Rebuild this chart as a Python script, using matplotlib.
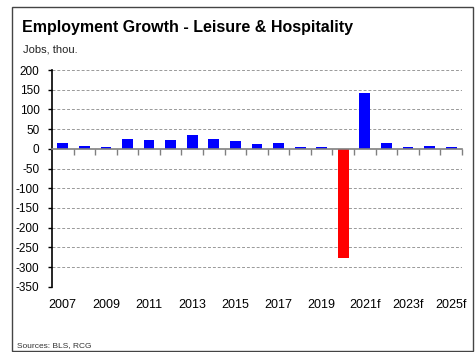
import matplotlib
matplotlib.use("Agg")
import matplotlib.pyplot as plt
import numpy as np
from matplotlib.patches import Rectangle
from matplotlib.ticker import FixedLocator

years = ['2007', '2008', '2009', '2010', '2011', '2012', '2013', '2014', '2015', '2016',
         '2017', '2018', '2019', '2020', '2021f', '2022f', '2023f', '2024f', '2025f']
growth = [15, 8, 5, 26, 22, 22, 35, 24, 19, 11, 15, 4, 4, -276, 141, 15, 5, 8, 5]
y_ticks = [200, 150, 100, 50, 0, -50, -100, -150, -200, -250, -300, -350]

plt.rcParams['font.family'] = ['Liberation Sans Narrow', 'Liberation Sans', 'DejaVu Sans']

fig = plt.figure(figsize=(4.76, 3.52), dpi=100)
ax = fig.add_axes([0.1092, 0.1855, 0.8613, 0.6156])

x = np.arange(len(years))
colors = ['#FF0000' if v < 0 else '#0000FF' for v in growth]
ax.bar(x, growth, width=0.5, color=colors, zorder=3)

ax.set_xlim(-0.5, len(years) - 0.5)
ax.set_ylim(-350, 200)
ax.set_yticks(y_ticks)
ax.set_yticklabels([str(t) for t in y_ticks], fontsize=8.5)
ax.tick_params(axis='y', direction='out', length=3, width=1, pad=6, color='black')

# dashed grid
for t in y_ticks:
    if t != 0:
        ax.axhline(t, color='#999999', lw=0.7, ls=(0, (3, 2)), zorder=1)

for s in ['top', 'right']:
    ax.spines[s].set_visible(False)
ax.spines['left'].set_color('black')
ax.spines['left'].set_linewidth(1.2)

# category axis sits on the zero line, ticks between bars
ax.spines['bottom'].set_position(('data', 0))
ax.spines['bottom'].set_color('#808080')
ax.spines['bottom'].set_linewidth(1.2)
ax.spines['bottom'].set_zorder(4)
ax.xaxis.set_major_locator(FixedLocator(x + 0.5))
ax.tick_params(axis='x', direction='out', length=4, width=1, color='#808080', labelbottom=False)

# year labels along the bottom of the plot
sec = ax.secondary_xaxis('bottom')
sec.set_xticks(x[::2])
sec.set_xticklabels(years[::2], fontsize=9)
sec.tick_params(length=0, pad=9)
sec.spines['bottom'].set_visible(False)

fig.text(0.046, 0.923, 'Employment Growth - Leisure & Hospitality', fontsize=11.5,
         fontweight='bold', va='center', ha='left')
fig.text(0.048, 0.858, 'Jobs, thou.', fontsize=8, va='center', ha='left', color='#222222')
fig.text(0.036, 0.018, 'Sources: BLS, RCG', fontsize=6, va='center', ha='left', color='#333333')

fig.patches.append(Rectangle((12 / 476, 0.002), 461 / 476, 1 - 7 / 352 - 0.002,
                             transform=fig.transFigure, fill=False, edgecolor='#444444', lw=1))

fig.savefig('out.png', dpi=100)
